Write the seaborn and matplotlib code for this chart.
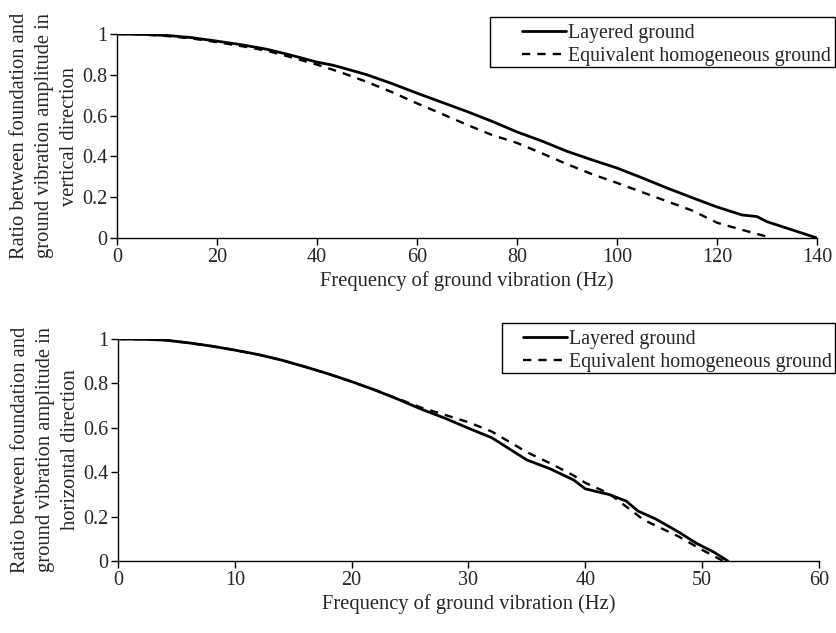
import matplotlib
matplotlib.use("Agg")
import matplotlib.pyplot as plt
from matplotlib.patches import Rectangle
import seaborn as sns
import pandas as pd

# Top panel: vertical direction
top_freq_layered = [0, 5, 10, 15, 20, 25, 30, 35, 40, 43, 45, 50, 55, 60, 65, 70, 75, 80, 85, 90, 95, 100, 105, 110, 115, 120, 125, 128, 130, 135, 140]
top_layered = [1.0, 0.998, 0.993, 0.982, 0.965, 0.947, 0.925, 0.895, 0.862, 0.848, 0.835, 0.80, 0.757, 0.71, 0.665, 0.62, 0.572, 0.52, 0.475, 0.425, 0.383, 0.343, 0.295, 0.245, 0.198, 0.152, 0.113, 0.105, 0.08, 0.04, 0.0]
top_freq_homog = [0, 5, 10, 15, 20, 25, 30, 35, 40, 45, 50, 55, 60, 65, 70, 75, 80, 85, 90, 95, 100, 105, 110, 115, 120, 125, 131]
top_homog = [1.0, 0.998, 0.99, 0.978, 0.96, 0.94, 0.918, 0.885, 0.85, 0.81, 0.765, 0.715, 0.66, 0.608, 0.555, 0.505, 0.466, 0.415, 0.362, 0.313, 0.27, 0.225, 0.18, 0.135, 0.075, 0.04, 0.0]

# Bottom panel: horizontal direction
bot_freq_layered = [0, 2, 4, 6, 8, 10, 12, 14, 16, 18, 20, 22, 24, 26, 28, 30, 32, 35, 37, 39, 40, 42, 43.5, 44.5, 46, 48, 49.5, 51, 52.2]
bot_layered = [1.0, 0.999, 0.995, 0.983, 0.968, 0.95, 0.93, 0.905, 0.875, 0.843, 0.808, 0.77, 0.728, 0.683, 0.643, 0.598, 0.555, 0.455, 0.415, 0.365, 0.325, 0.30, 0.27, 0.225, 0.19, 0.13, 0.08, 0.04, 0.0]
bot_freq_homog = [0, 2, 4, 6, 8, 10, 12, 14, 16, 18, 20, 22, 24, 26, 28, 30, 32, 35, 37, 39, 40, 42, 43.5, 45, 46, 48, 50, 51.8]
bot_homog = [1.0, 0.999, 0.995, 0.983, 0.968, 0.95, 0.93, 0.905, 0.875, 0.843, 0.808, 0.77, 0.73, 0.69, 0.658, 0.625, 0.583, 0.49, 0.44, 0.385, 0.352, 0.305, 0.245, 0.185, 0.16, 0.11, 0.05, 0.0]

labels = ["Layered ground", "Equivalent homogeneous ground"]
x_label = "Frequency of ground vibration (Hz)"
top_ylabel = "Ratio between foundation and\nground vibration amplitude in\nvertical direction"
bot_ylabel = "Ratio between foundation and\nground vibration amplitude in\nhorizontal direction"
top_xticks = [0, 20, 40, 60, 80, 100, 120, 140]
bot_xticks = [0, 10, 20, 30, 40, 50, 60]
yticks = [0, 0.2, 0.4, 0.6, 0.8, 1]
ytick_labels = ["0", "0.2", "0.4", "0.6", "0.8", "1"]

sns.set_theme(style="ticks")
plt.rcParams["font.family"] = ["Liberation Serif", "DejaVu Serif"]

fig = plt.figure(figsize=(8.37, 6.33), dpi=100)
ax1 = fig.add_axes([117/837, 1-238/633, 700/837, 204/633])
ax2 = fig.add_axes([118/837, 1-561/633, 701/837, 222/633])

panels = [
    (ax1, top_freq_layered, top_layered, top_freq_homog, top_homog, top_xticks, 140, top_ylabel,
     (831/837, 1-24/633), (490, 633-67, 835-490, 50)),
    (ax2, bot_freq_layered, bot_layered, bot_freq_homog, bot_homog, bot_xticks, 60, bot_ylabel,
     (832/837, 1-330/633), (502, 633-373, 835-502, 50)),
]

fs_tick = 14.5
fs_lab = 14.8
fs_leg = 14.3
for ax, fl, yl, fh, yh, xt, xmax, ylab, anchor, box in panels:
    d1 = pd.DataFrame({"f": fl, "r": yl})
    d2 = pd.DataFrame({"f": fh, "r": yh})
    sns.lineplot(data=d1, x="f", y="r", ax=ax, color="black", linewidth=2.0, label=labels[0])
    sns.lineplot(data=d2, x="f", y="r", ax=ax, color="black", linewidth=1.7,
                 linestyle=(0, (3.5, 3)), label=labels[1])
    ax.set_xlim(0, xmax)
    ax.set_ylim(0, 1)
    ax.set_xticks(xt)
    ax.set_xticklabels([str(v) for v in xt], fontsize=fs_tick)
    ax.set_yticks(yticks)
    ax.set_yticklabels(ytick_labels, fontsize=fs_tick)
    ax.set_xlabel(x_label, fontsize=fs_lab, labelpad=3)
    ax.set_ylabel(ylab, fontsize=fs_lab, linespacing=1.45, labelpad=2)
    ax.spines["top"].set_visible(False)
    ax.spines["right"].set_visible(False)
    for sp in ["left", "bottom"]:
        ax.spines[sp].set_color("black")
        ax.spines[sp].set_linewidth(1.0)
    ax.tick_params(axis="both", direction="out", length=5, width=1, color="black", pad=2)
    leg = ax.legend(loc="upper right", bbox_to_anchor=anchor, bbox_transform=fig.transFigure,
                    fontsize=fs_leg, frameon=False, handlelength=2.2, handletextpad=0.1,
                    borderpad=0.0, labelspacing=0.2, borderaxespad=0)
    bx, by, bw, bh = box
    fig.patches.append(Rectangle((bx/837, by/633), bw/837, bh/633, transform=fig.transFigure,
                                 fill=False, edgecolor="black", linewidth=1.0, zorder=5))

fig.savefig("out.png", dpi=100)
